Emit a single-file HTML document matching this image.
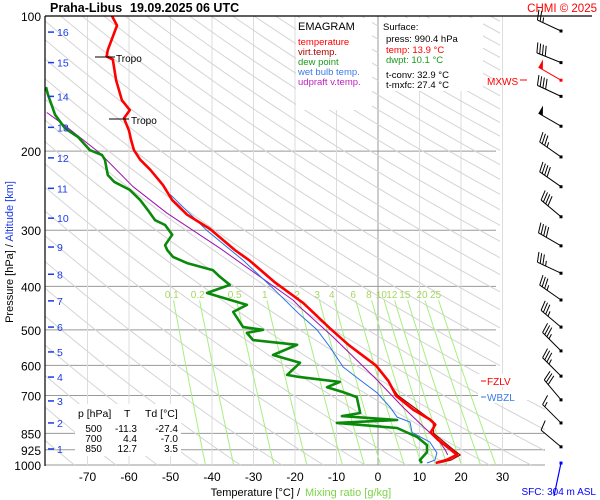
<!DOCTYPE html>
<html><head><meta charset="utf-8"><style>
body{margin:0;background:#fff;}
svg{display:block;font-family:"Liberation Sans",Arial,sans-serif;}
</style></head><body>
<svg id="c" width="600" height="500" viewBox="0 0 600 500" xmlns="http://www.w3.org/2000/svg">
<defs><clipPath id="plotclip"><rect x="45" y="16" width="455" height="450"/></clipPath>
<clipPath id="adclip"><rect x="45" y="16" width="455" height="450"/><rect x="45" y="400" width="500" height="66"/></clipPath></defs>
<rect x="0" y="0" width="600" height="500" fill="#fff"/>
<g id="grid"></g>
<g id="adiab" clip-path="url(#adclip)"></g>
<g id="mix"></g>
<g id="profiles" clip-path="url(#plotclip)"></g>
<g id="axes"></g>
<g id="barbs"></g>
<text x="50" y="12" font-size="12.5" font-weight="bold">Praha-Libus</text>
<text x="130" y="12" font-size="12.5" font-weight="bold">19.09.2025 06 UTC</text>
<text x="597" y="12" font-size="11.5" fill="#f00" text-anchor="end">CHMI © 2025</text>
<line x1="45" y1="16" x2="592" y2="16" stroke="#000" stroke-width="1.2"/>
<line x1="45" y1="16" x2="45" y2="466" stroke="#000" stroke-width="1.2"/>
<g>
<rect x="296" y="18" width="76" height="92" fill="#fff"/>
<text x="298" y="30" font-size="11">EMAGRAM</text>
<text x="298" y="45" font-size="9.5" fill="#f00">temperature</text>
<text x="298" y="55" font-size="9.5" fill="#a00">virt.temp.</text>
<text x="298" y="65" font-size="9.5" fill="#1a9a1a">dew point</text>
<text x="298" y="75" font-size="9.5" fill="#3a7ae8">wet bulb temp.</text>
<text x="298" y="85" font-size="9.5" fill="#c020c0">udpraft v.temp.</text>
</g>
<g>
<rect x="379" y="18" width="104" height="73" fill="#fff"/>
<text x="383" y="30" font-size="9.5">Surface:</text>
<text x="386" y="42" font-size="9.5">press: 990.4 hPa</text>
<text x="386" y="53" font-size="9.5" fill="#f00">temp: 13.9 °C</text>
<text x="386" y="63" font-size="9.5" fill="#1a9a1a">dwpt: 10.1 °C</text>
<text x="386" y="78" font-size="9.5">t-conv: 32.9 °C</text>
<text x="386" y="88" font-size="9.5">t-mxfc: 27.4 °C</text>
</g>
<g>
<rect x="75" y="404" width="106" height="52" fill="#fff"/>
<text x="78" y="417" font-size="10.5">p [hPa]</text><text x="124" y="417" font-size="10.5">T</text><text x="145" y="417" font-size="10.5">Td [°C]</text>
<text x="102" y="432" font-size="10" text-anchor="end">500</text><text x="137" y="432" font-size="10" text-anchor="end">-11.3</text><text x="178" y="432" font-size="10" text-anchor="end">-27.4</text>
<text x="102" y="442" font-size="10" text-anchor="end">700</text><text x="137" y="442" font-size="10" text-anchor="end">4.4</text><text x="178" y="442" font-size="10" text-anchor="end">-7.0</text>
<text x="102" y="452" font-size="10" text-anchor="end">850</text><text x="137" y="452" font-size="10" text-anchor="end">12.7</text><text x="178" y="452" font-size="10" text-anchor="end">3.5</text>
</g>
<g>
<line x1="95" y1="57" x2="115" y2="57" stroke="#000"/><text x="116" y="62" font-size="10">Tropo</text>
<line x1="109" y1="119" x2="129" y2="119" stroke="#000"/><text x="131" y="124" font-size="10">Tropo</text>
</g>
<g>
<rect x="478" y="374" width="44" height="13" fill="#fff"/>
<line x1="481" y1="381" x2="486" y2="381" stroke="#f00"/><text x="487" y="385" font-size="10" fill="#f00">FZLV</text>
<rect x="478" y="390" width="44" height="13" fill="#fff"/>
<line x1="481" y1="397" x2="486" y2="397" stroke="#3a7ae8"/><text x="487" y="401" font-size="10" fill="#3a7ae8">WBZL</text>
<text x="487" y="85" font-size="10" fill="#f00">MXWS</text>
<line x1="520" y1="80" x2="527" y2="80" stroke="#f00"/>
</g>
<text x="596" y="495" font-size="10" fill="#00f" text-anchor="end">SFC: 304 m ASL</text>
<text x="300" y="496" font-size="11" text-anchor="end">Temperature [°C]  / </text>
<text x="305" y="496" font-size="11" fill="#7dd34a">Mixing ratio [g/kg]</text>
<text transform="translate(13,252) rotate(-90)" font-size="11" text-anchor="middle"><tspan>Pressure [hPa]  /  </tspan><tspan fill="#1a3ae8">Altitude [km]</tspan></text>
</svg>
<script>
const NS='http://www.w3.org/2000/svg';
// ---- data ----
const pressureTicks=[100,200,300,400,500,600,700,850,925,1000];
const tempTicks=[-70,-60,-50,-40,-30,-20,-10,0,10,20,30];
const altKm=[1,2,3,4,5,6,7,8,9,10,11,12,13,14,15,16];
const altP=[921,806,720,637,560,493,431,376,327,282,242,207,177,151,127,108.6];
const mixRatios=[0.1,0.2,0.5,1,2,3,4,6,8,10,12,15,20,25];
const tempP=[100,105,119,123,125,139,154,162,169,180,189,199,209,220,238,257,277,298,332,350,391,436,497,541,600,650,702,753,792,813,846,879,924,949,974,990];
const tempT=[-64.1,-62.9,-65.1,-65.4,-63.9,-63.1,-61.7,-59.8,-61.2,-60.0,-59.5,-58.8,-57.3,-54.9,-51.8,-49.6,-46.0,-40.5,-34.5,-31,-25,-18,-11.5,-7,-0.5,2.5,4.4,8.5,12.5,13.8,12.7,14.5,17.5,19,16.5,13.9];
const virtP=[600,700,800,850,925,950,975,990];
const virtT=[-0.3,4.8,13.3,13.4,18.2,19.8,17.6,14.6];
const dewP=[144,150,166,178,186,199,204,209,226,234,244,257,271,285,292,307,324,332,344,355,368,381,397,414,440,456,493,500,508,527,540,569,592,630,637,653,671,688,706,766,778,794,806,827,866,903,936,975,990];
const dewT=[-80,-79.5,-77.8,-75.4,-72.3,-69.4,-66.5,-65.8,-65.1,-63.6,-59.8,-57.3,-55.4,-53.7,-51.3,-49.6,-51.3,-50.8,-49.4,-46.0,-39.8,-38.1,-35.7,-41.2,-31.6,-34.9,-32.5,-27.7,-31.6,-30.1,-19.5,-25.3,-18.8,-21.9,-18.8,-9.2,-12.3,-8.4,-5.1,-4.3,-8.7,4.6,-9.9,4.6,9.4,11.8,11.8,10.1,10.6];
const wbP=[250,300,350,400,463,500,546,605,647,691,743,782,802,846,889,940,975,990];
const wbT=[-50,-41.3,-32.5,-25.8,-18.8,-14.7,-11.6,-8.4,-4.3,-0.2,2.9,4.6,7.7,8.2,12.5,14.2,13.7,11.8];
const parcelP=[164,177,202,240,275,329,429,445,519,647,743,836,889,925,950];
const parcelT=[-79.8,-74.9,-67.0,-59.0,-50.8,-38.1,-20.5,-18.8,-10.8,-0.2,6.0,11.8,14.9,16.2,16.8];
const windP=[108,127,151,176,206,240,280,325,374,429,493,557,634,716,806,911];
const windDir=[295,292,295,300,305,305,310,300,295,305,310,315,315,320,315,310];
const windSpd=[25,40,40,50,35,40,40,40,35,35,35,35,35,30,15,10];
const mxwsP=139, mxwsDir=300, mxwsSpd=50;

// ---- axes ----
const X=t=>378+4.15*t;
const Y=p=>16+195*Math.log(p/100);
function el(tag,attrs,parent){const e=document.createElementNS(NS,tag);for(const k in attrs)e.setAttribute(k,attrs[k]);parent.appendChild(e);return e;}
const grid=document.getElementById('grid');
pressureTicks.forEach(p=>{
  const l=el('line',{x1:45,x2:p>=850?545:496,y1:Y(p),y2:Y(p),stroke:'#999','stroke-width':1},grid);
  
  
  const t=el('text',{x:41,y:Y(p)+5,'font-size':12,'text-anchor':'end'},document.getElementById('axes'));
  t.textContent=p;
  
  
});
tempTicks.forEach(v=>{
  const l=el('line',{x1:X(v),x2:X(v),y1:16,y2:Y(1000),stroke:v===0?'#999':'#ddd','stroke-width':1},grid);
  
  
  const t=el('text',{x:X(v),y:481,'font-size':12,'text-anchor':'middle'},document.getElementById('axes'));
  t.textContent=v;
  
  
});
altKm.forEach((k,i)=>{
  const ax=document.getElementById('axes');
  const y=Y(altP[i]);
  const l=el('line',{x1:48,x2:54,y1:y,y2:y,stroke:'#1a3ae8','stroke-width':1.5},ax);
  
  
  const t=el('text',{x:57,y:y+4,'font-size':10.5,fill:'#1a3ae8'},ax);
  t.textContent=k;
  
  
});
// dry adiabats
const ad=document.getElementById('adiab');
for(let th=200;th<=620;th+=10){
  let d='';
  for(let p=100;p<=1000;p+=10){const t=th*Math.pow(p/1000,0.286)-273.15;d+=(d?'L':'M')+X(t).toFixed(1)+' '+Y(p).toFixed(1);}
  const a=el('path',{d:d,fill:'none',stroke:'#d4d4d4','stroke-width':1},ad);
  
  
}
// mixing ratio lines
const mx=document.getElementById('mix');
function tdFromW(w,p){const e=w*p/(622+w);const l=Math.log(e/6.112);return 243.5*l/(17.67-l);}
mixRatios.forEach(w=>{
  let d='';
  for(let p=430;p<=1000;p+=10){d+=(d?'L':'M')+X(tdFromW(w,p)).toFixed(1)+' '+Y(p).toFixed(1);}
  const a=el('path',{d:d,fill:'none',stroke:'#a8ee80','stroke-width':1},mx);
  
  
  const t=el('text',{x:X(tdFromW(w,410)),y:298,'font-size':10,fill:'#a4d860','text-anchor':'middle'},mx);
  t.textContent=w;
  
  
});
// profiles
const pr=document.getElementById('profiles');
function line(P,T,color,w,name){
  const d=P.map((p,i)=>(i?'L':'M')+X(T[i]).toFixed(1)+' '+Y(p).toFixed(1)).join('');
  const a=el('path',{d:d,fill:'none',stroke:color,'stroke-width':w,'stroke-linejoin':'round'},pr);
  
  
}
line(parcelP,parcelT,'#a010b0',1,'updraft-line');
line(dewP,dewT,'#0a8a0a',2.6,'dew-point-line');
line(wbP,wbT,'#2a70e8',1,'wet-bulb-line');
line(virtP,virtT,'#a00000',1.2,'virtual-temp-line');
line(tempP,tempT,'#f00',2.6,'temperature-line');
// wind barbs
const bg=document.getElementById('barbs');
function barb(p,dir,spd,color,name){
  const x0=561,y0=Y(p),r=dir*Math.PI/180,ux=Math.sin(r),uy=-Math.cos(r),L=26;
  const g=el('g',{},bg);
  
  
  const ex=x0+ux*L,ey=y0+uy*L;
  el('line',{x1:x0,y1:y0,x2:ex,y2:ey,stroke:color,'stroke-width':1},g);
  el('rect',{x:x0-1.5,y:y0-1.5,width:3,height:3,fill:color},g);
  const px=-uy,py=ux;
  let s=spd,pos=0;
  while(s>=50){const ax=ex-ux*pos,ay=ey-uy*pos;el('polygon',{points:`${ax},${ay} ${ax-ux*5},${ay-uy*5} ${ax+px*9},${ay+py*9}`,fill:color},g);s-=50;pos+=6;}
  while(s>=10){const ax=ex-ux*pos,ay=ey-uy*pos;el('line',{x1:ax,y1:ay,x2:ax+px*10+ux*3,y2:ay+py*10+uy*3,stroke:color},g);s-=10;pos+=3;}
  if(s>=5){if(pos===0)pos=3;const ax=ex-ux*pos,ay=ey-uy*pos;el('line',{x1:ax,y1:ay,x2:ax+px*5+ux*1.5,y2:ay+py*5+uy*1.5,stroke:color},g);}
}
windP.forEach((p,i)=>{barb(p,windDir[i],windSpd[i],'#000','wind-barb');});
barb(mxwsP,mxwsDir,mxwsSpd,'#f00','max-wind-barb');
const sfc=el('line',{x1:561,y1:Y(990),x2:554,y2:496,stroke:'#00f','stroke-width':1.2},bg);


const sfd=el('rect',{x:559.5,y:Y(990)-1.5,width:3,height:3,fill:'#00f'},bg);


</script>
</body></html>
